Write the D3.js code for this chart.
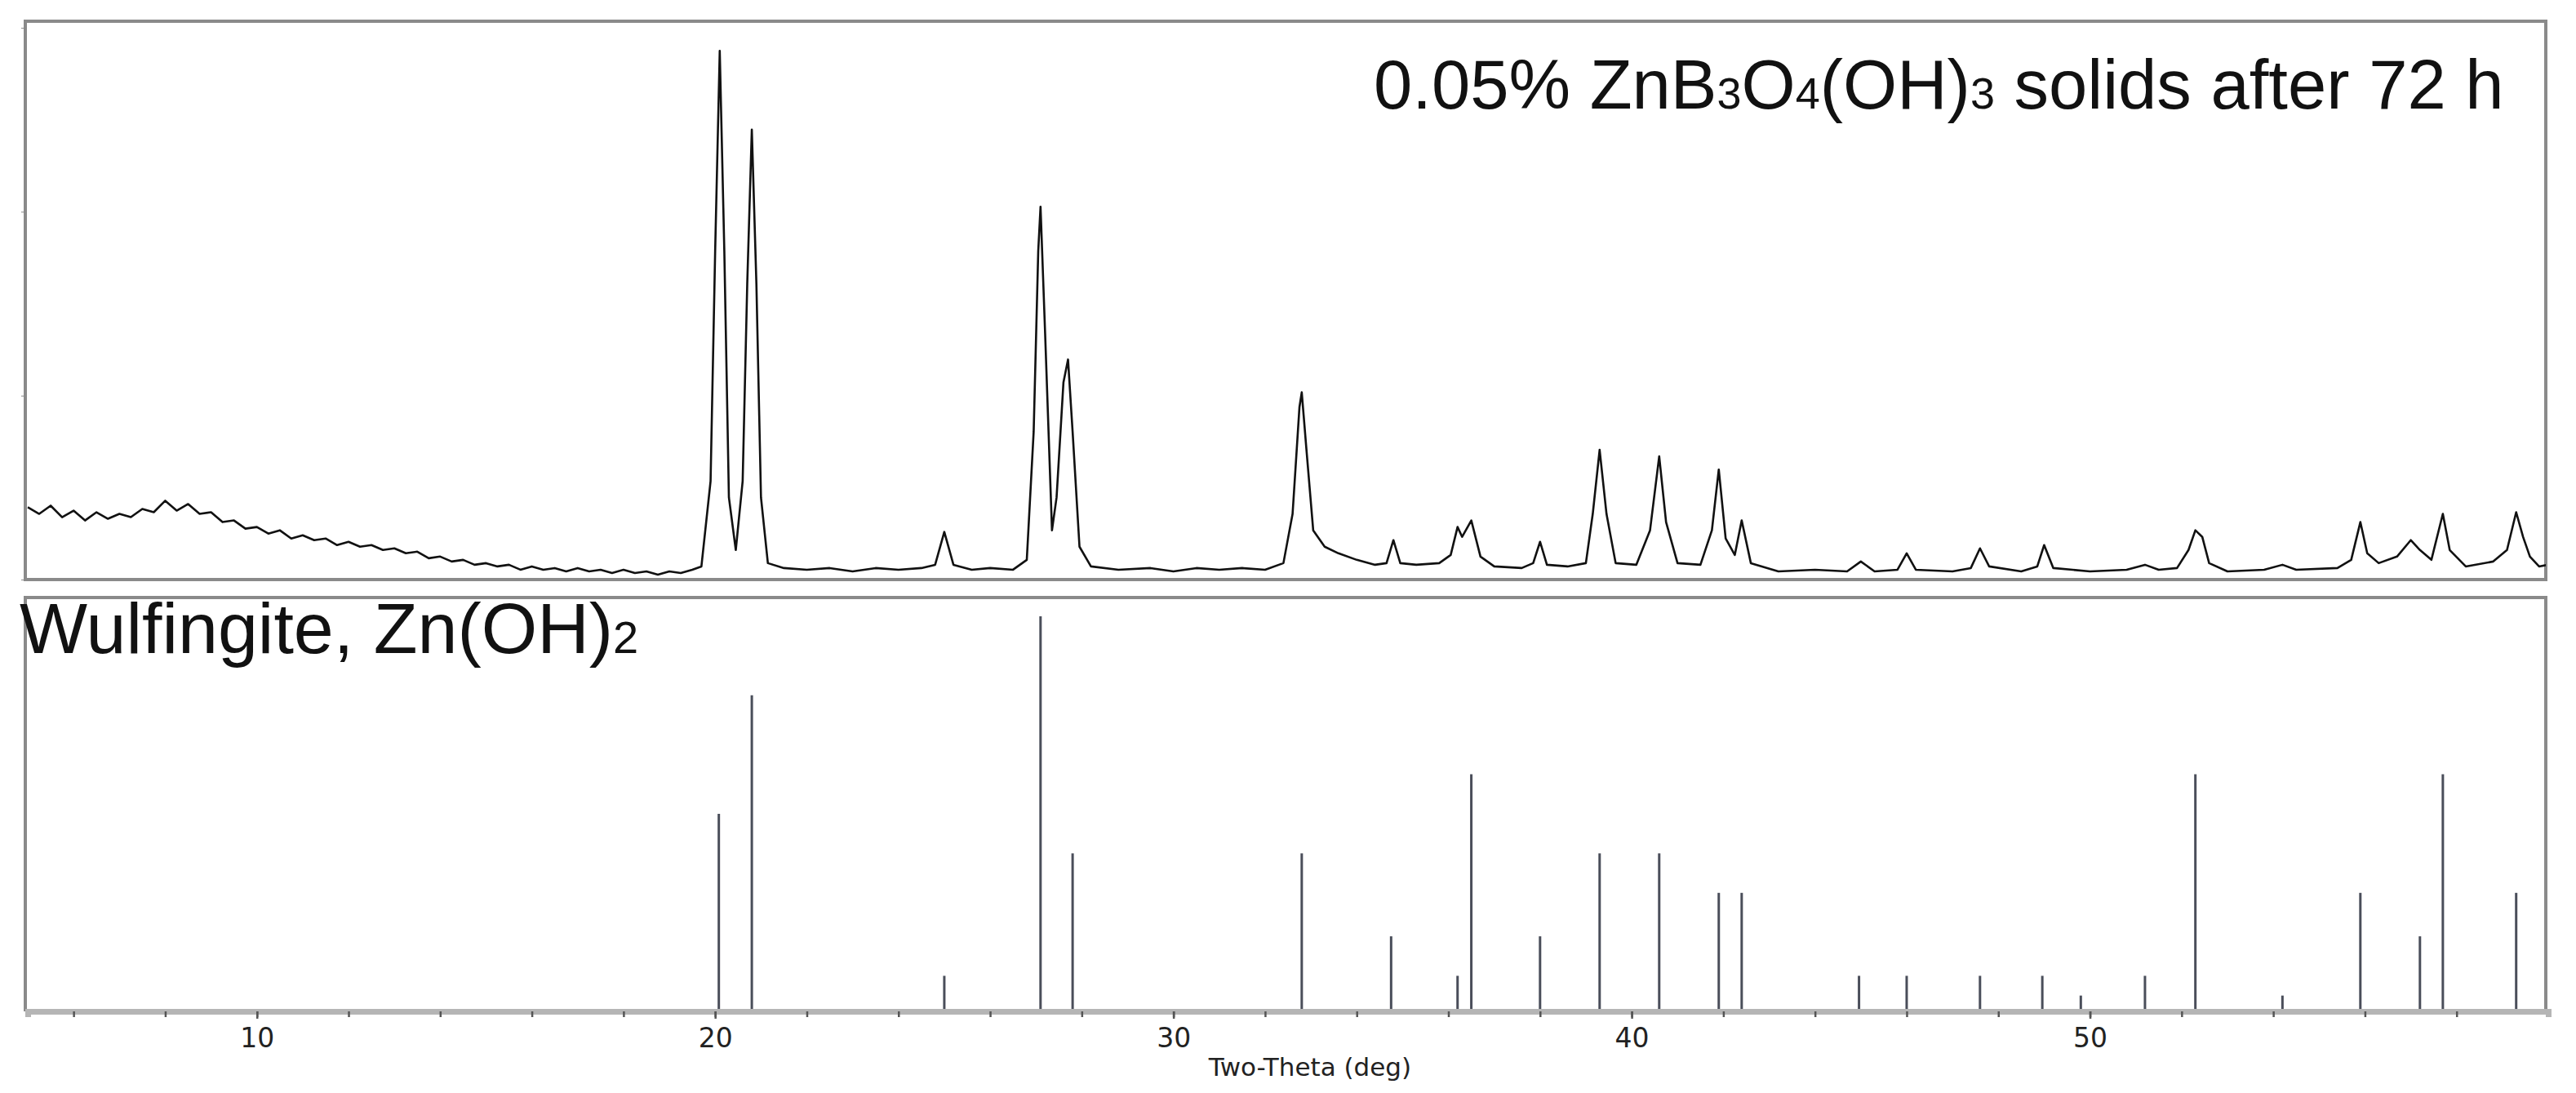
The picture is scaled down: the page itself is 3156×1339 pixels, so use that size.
<!doctype html>
<html lang="en">
<head>
<title>XRD pattern</title>
<script src="https://d3js.org/d3.v7.min.js"></script>
<style>
  body { margin: 0; background: #fff; }
  text { font-family: "Liberation Sans", Arial, sans-serif; }
  .tick text { font-family: "DejaVu Sans", sans-serif; }
</style>
</head>
<body>
<div id="chart"></div>
<script>
var pattern = [
  [5,44],[5.25,40],[5.5,45],[5.75,38],[6,42],[6.25,36],[6.5,41],[6.75,37],[7,40],[7.25,38],[7.5,43],[7.75,41],
  [8,48],[8.25,42],[8.5,46],[8.75,40],[9,41],[9.25,35],[9.5,36],[9.75,31],[10,32],[10.25,28],[10.5,30],[10.75,25],
  [11,27],[11.25,24],[11.5,25],[11.75,21],[12,23],[12.25,20],[12.5,21],[12.75,18],[13,19],[13.25,16],[13.5,17],
  [13.75,13],[14,14],[14.25,11],[14.5,12],[14.75,9],[15,10],[15.25,8],[15.5,9],[15.75,6],[16,8],[16.25,6],[16.5,7],
  [16.75,5],[17,7],[17.25,5],[17.5,6],[17.75,4],[18,6],[18.25,4],[18.5,5],[18.75,3],[19,5],[19.25,4],[19.5,6],
  [19.7,8],[19.9,60],[20.0,200],[20.1,322],[20.2,200],[20.3,50],[20.45,18],[20.6,60],[20.7,180],[20.8,274],[20.9,180],
  [21.0,50],[21.15,10],[21.5,7],[22,6],[22.5,7],[23,5],[23.5,7],[24,6],[24.5,7],[24.8,9],[25.0,29],[25.2,9],[25.6,6],
  [26,7],[26.5,6],[26.8,12],[26.95,90],[27.05,200],[27.1,227],[27.2,150],[27.35,30],[27.45,50],[27.6,120],[27.7,134],
  [27.8,90],[27.95,20],[28.2,8],[28.8,6],[29.5,7],[30,5],[30.5,7],[31,6],[31.5,7],[32,6],[32.4,10],[32.6,40],
  [32.75,105],[32.8,114],[32.9,80],[33.05,30],[33.3,20],[33.6,16],[34,12],[34.4,9],[34.65,10],[34.8,24],[34.95,10],
  [35.3,9],[35.8,10],[36.05,15],[36.2,32],[36.3,26],[36.5,36],[36.7,14],[37,8],[37.6,7],[37.85,10],[38.0,23],
  [38.15,9],[38.6,8],[39.0,10],[39.15,40],[39.3,79],[39.45,40],[39.65,10],[40.1,9],[40.4,30],[40.6,75],[40.75,35],
  [41.0,10],[41.5,9],[41.75,30],[41.9,67],[42.05,25],[42.25,15],[42.4,36],[42.6,10],[43.2,5],[44,6],[44.7,5],
  [45.0,11],[45.3,5],[45.8,6],[46.0,16],[46.2,6],[47,5],[47.4,7],[47.6,19],[47.8,8],[48.5,5],[48.85,8],[49.0,21],
  [49.2,7],[50,5],[50.8,6],[51.2,9],[51.5,6],[51.9,7],[52.15,18],[52.3,30],[52.45,26],[52.6,10],[53,5],[53.8,6],
  [54.2,9],[54.5,6],[55.4,7],[55.7,12],[55.9,35],[56.05,16],[56.3,10],[56.7,14],[57.0,24],[57.2,18],[57.45,12],
  [57.7,40],[57.85,18],[58.2,8],[58.8,11],[59.1,18],[59.3,41],[59.45,26],[59.6,14],[59.8,8],[60,9]
];

// reference sticks for wulfingite
var stickPos = [20.08,20.8,25.0,27.1,27.8,32.8,34.75,36.2,36.5,38.0,39.3,40.6,41.9,42.4,44.96,46.0,47.6,48.96,49.8,51.2,52.3,54.2,55.9,57.2,57.7,59.3];
var stickInt = [50,80,9,100,40,40,19,9,60,19,40,40,30,30,9,9,9,9,4,9,60,4,30,19,60,30];

var xTicks = [10,20,30,40,50];
var minorTicks = d3.range(6, 60, 2);
var topYTicks = [0,112,224,336];

var W = 3156, H = 1339;
var svg = d3.select("#chart").append("svg").attr("width", W).attr("height", H);

var left = 31, right = 3119;
var top1 = 26, bot1 = 710, top2 = 732, bot2 = 1239;

var x = d3.scaleLinear().domain([5, 60]).range([left + 3, right + 3]);
var y1 = d3.scaleLinear().domain([0, 340]).range([bot1, top1]);
var y2 = d3.scaleLinear().domain([0, 100]).range([bot2, 755]);

// upper panel
svg.append("rect").attr("x", left).attr("y", top1).attr("width", right - left).attr("height", bot1 - top1)
  .attr("fill", "none").attr("stroke", "#8a8a8a").attr("stroke-width", 4);

svg.append("g").attr("transform", "translate(" + left + ",0)")
  .call(d3.axisLeft(y1).tickValues(topYTicks).tickSize(5).tickFormat(""))
  .call(g => g.select(".domain").remove())
  .selectAll("line").attr("stroke", "#888");

var clip = svg.append("clipPath").attr("id", "c1").append("rect")
  .attr("x", left).attr("y", top1).attr("width", right - left).attr("height", bot1 - top1);

var line = d3.line().x(d => x(d[0])).y(d => y1(d[1]));
svg.append("path").datum(pattern).attr("d", line).attr("clip-path", "url(#c1)")
  .attr("fill", "none").attr("stroke", "#111").attr("stroke-width", 2.6).attr("stroke-linejoin", "round");

var t1 = svg.append("text").attr("x", 1683).attr("y", 133).attr("font-size", 85).attr("fill", "#111");
t1.append("tspan").text("0.05% ZnB");
t1.append("tspan").attr("font-size", 54).text("3");
t1.append("tspan").text("O");
t1.append("tspan").attr("font-size", 54).text("4");
t1.append("tspan").text("(OH)");
t1.append("tspan").attr("font-size", 54).text("3");
t1.append("tspan").text(" solids after 72 h");

// lower panel
svg.append("path").attr("d", "M" + left + "," + bot2 + "V" + top2 + "H" + right + "V" + bot2)
  .attr("fill", "none").attr("stroke", "#8a8a8a").attr("stroke-width", 4);

svg.selectAll("line.stick").data(stickPos).enter().append("line").attr("class", "stick")
  .attr("x1", d => x(d)).attr("x2", d => x(d))
  .attr("y1", y2(0)).attr("y2", (d, i) => y2(stickInt[i]))
  .attr("stroke", "#4a4e5a").attr("stroke-width", 3);

var t2 = svg.append("text").attr("x", 24).attr("y", 800).attr("font-size", 88).attr("fill", "#111");
t2.append("tspan").text("Wulfingite, Zn(OH)");
t2.append("tspan").attr("font-size", 56).text("2");

// bottom axis
svg.append("g").attr("transform", "translate(0," + bot2 + ")")
  .call(d3.axisBottom(x).tickValues(minorTicks).tickSize(7).tickFormat(""))
  .call(g => g.select(".domain").attr("stroke", "#b5b5b5").attr("stroke-width", 7))
  .selectAll("line").attr("stroke", "#555").attr("stroke-width", 2.5);

var ax = svg.append("g").attr("transform", "translate(0," + bot2 + ")")
  .call(d3.axisBottom(x).tickValues(xTicks).tickSize(9).tickPadding(12));
ax.select(".domain").remove();
ax.selectAll("line").attr("stroke", "#555").attr("stroke-width", 2.5);
ax.selectAll("text").attr("font-size", 33).attr("fill", "#222");

svg.append("text").attr("x", (left + right) / 2 + 30).attr("y", 1318).attr("text-anchor", "middle")
  .attr("font-size", 31).attr("fill", "#222").style("font-family", "'DejaVu Sans', sans-serif")
  .text("Two-Theta (deg)");
</script>
</body>
</html>
